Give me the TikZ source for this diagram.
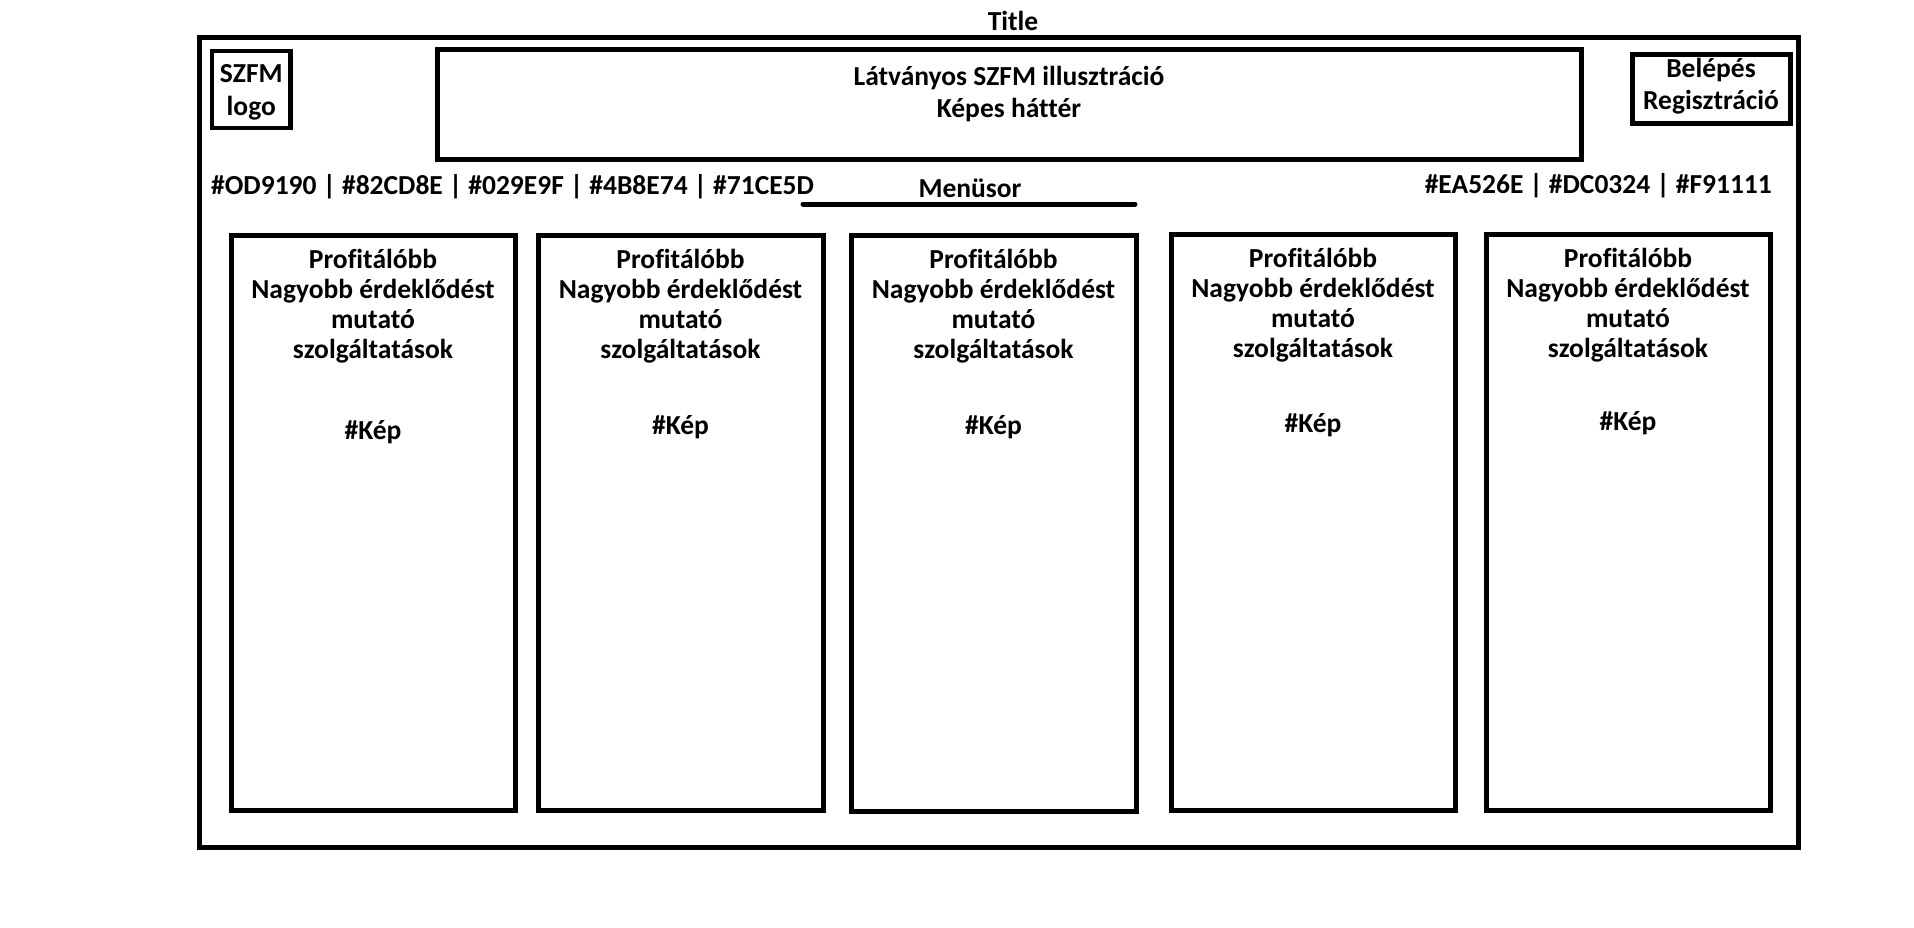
\documentclass[tikz,border=0pt]{standalone}
\usepackage{fontspec}
\setmainfont{Carlito}[Ligatures=NoCommon]
\usetikzlibrary{positioning,fit}

\begin{document}
\begin{tikzpicture}[x=1pt,y=-1pt,font=\fontsize{27.5}{30}\selectfont\bfseries]
				\tikzset{box/.style={draw=black,line width=5pt,inner sep=0pt}}
				\tikzset{txt/.style={inner sep=0pt,align=center}}

				\useasboundingbox (0,0) rectangle (1914,927);

				\node[txt] (title) at (1013,21) {Title};
				\node[fit={(199,37.5) (1798,847)}, box] (page) {};

				\node[fit={(212,51) (290.5,128)}, box, line width=4.5pt] (logo) {};
				\node[txt, yshift=-3pt, font=\fontsize{27.5}{33}\selectfont\bfseries] (logotxt) at (logo.center) {SZFM\\logo};
				\node[fit={(437,49) (1581,159)}, box] (hero) {};
				\node[txt, below=19.5pt of hero.north, font=\fontsize{27.5}{32}\selectfont\bfseries] (herotxt) {Látványos SZFM illusztráció\\Képes háttér};
				\node[fit={(1632,54) (1790,123)}, box] (login) {};
				\node[txt, yshift=2pt, font=\fontsize{27.5}{32}\selectfont\bfseries] (logintxt) at (login.center) {Belépés\\Regisztráció};

				\node[txt, anchor=west] (colorsl) at (211,187) {\#OD9190 | \#82CD8E | \#029E9F | \#4B8E74 | \#71CE5D};
				\node[txt] (menu) at (970,188) {Menüsor};
				\node[txt, anchor=east] (colorsr) at (1772,186) {\#EA526E | \#DC0324 | \#F91111};
				\coordinate (menul) at (803,204);
				\coordinate (menur) at (1135,204);
				\draw[line width=5pt, line cap=round] (menul) -- (menur);

				\node[fit={(231,235.5) (515,810)}, box] (card1) {};
				\node[fit={(538,235.5) (823,810)}, box] (card2) {};
				\node[fit={(851,235.5) (1136,811)}, box] (card3) {};
				\node[fit={(1171,234.5) (1455,810)}, box] (card4) {};
				\node[fit={(1486,234.5) (1770,810)}, box] (card5) {};

				\node[txt, below=15.5pt of card1.north] (text1) {Profitálóbb\\Nagyobb érdeklődést\\mutató\\szolgáltatások};
				\node[txt, below=15.5pt of card2.north] (text2) {Profitálóbb\\Nagyobb érdeklődést\\mutató\\szolgáltatások};
				\node[txt, below=15.5pt of card3.north] (text3) {Profitálóbb\\Nagyobb érdeklődést\\mutató\\szolgáltatások};
				\node[txt, below=15.5pt of card4.north] (text4) {Profitálóbb\\Nagyobb érdeklődést\\mutató\\szolgáltatások};
				\node[txt, below=15.5pt of card5.north] (text5) {Profitálóbb\\Nagyobb érdeklődést\\mutató\\szolgáltatások};

				\node[txt] (kep1) at (card1.north |- 0,432) {\#Kép};
				\node[txt] (kep2) at (card2.north |- 0,427) {\#Kép};
				\node[txt] (kep3) at (card3.north |- 0,427) {\#Kép};
				\node[txt] (kep4) at (card4.north |- 0,425) {\#Kép};
				\node[txt] (kep5) at (card5.north |- 0,423) {\#Kép};

			\end{tikzpicture}
\end{document}
